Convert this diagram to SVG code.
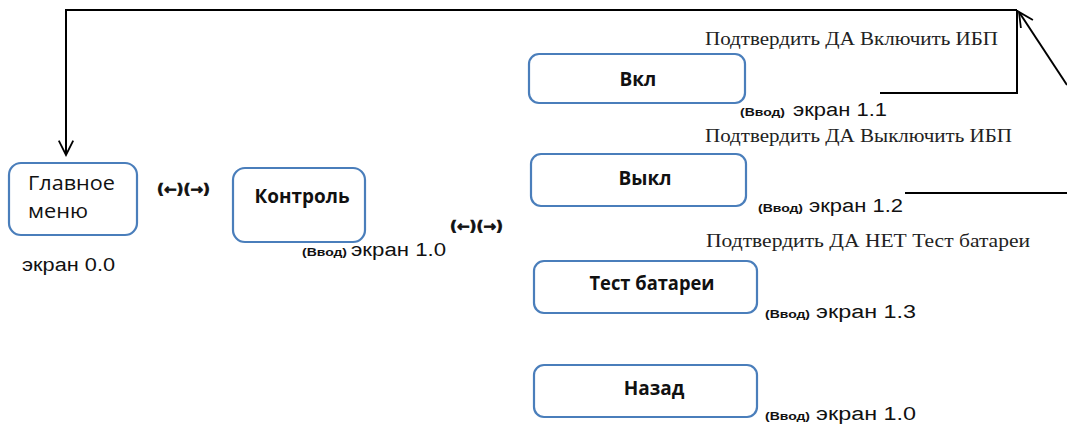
<svg xmlns="http://www.w3.org/2000/svg" width="1067" height="425" viewBox="0 0 1067 425">
<style>
.box{fill:#fff;stroke:#4a7ebb;stroke-width:2.2}
.lbl{font-family:"Open Sans","Liberation Sans",sans-serif;font-size:20px;fill:#111}
.bl{font-family:"Open Sans","Liberation Sans",sans-serif;font-size:19px;font-weight:bold;fill:#111;text-anchor:middle}
.scr{font-family:"Liberation Sans",Arial,sans-serif;font-size:18px;fill:#111}
.in{font-family:"Liberation Sans",Arial,sans-serif;font-size:11px;font-weight:bold;fill:#111}
.ser{font-family:"Liberation Serif","Times New Roman",serif;font-size:18px;fill:#222}
.ar{font-family:"DejaVu Sans",sans-serif;font-size:14px;font-weight:bold;fill:#111;stroke:#111;stroke-width:0.7}
.ln{fill:none;stroke:#000;stroke-width:2}
</style>
<defs>
<marker id="open" viewBox="0 0 20 20" refX="18" refY="10" markerWidth="18" markerHeight="18" markerUnits="userSpaceOnUse" orient="auto">
<path d="M2,2 L18,10 L2,18" fill="none" stroke="#000" stroke-width="2"/>
</marker>
</defs>
<g id="connectors">
<path class="ln" d="M1017,10 H66 V155" marker-end="url(#open)"/>
<path class="ln" d="M880,93 H1017 V10"/>
<path class="ln" d="M1067,85 L1019,12" marker-end="url(#open)"/>
<path class="ln" d="M905,193 H1067"/>
</g>
<g id="main">
<rect class="box" x="9" y="163" width="128" height="72" rx="12"/>
<text class="lbl" x="28" y="190" textLength="87" lengthAdjust="spacingAndGlyphs">Главное</text>
<text class="lbl" x="28" y="218" textLength="60" lengthAdjust="spacingAndGlyphs">меню</text>
<text class="scr" x="22" y="271" textLength="93" lengthAdjust="spacingAndGlyphs">экран 0.0</text>
<text class="ar" x="157" y="194" textLength="53" lengthAdjust="spacingAndGlyphs">(←)(→)</text>
</g>
<g id="control">
<rect class="box" x="233" y="168" width="132" height="74" rx="12"/>
<text class="bl" x="302" y="203" textLength="95" lengthAdjust="spacingAndGlyphs">Контроль</text>
<text class="in" x="302" y="256" textLength="45" lengthAdjust="spacingAndGlyphs">(Ввод)</text>
<text class="scr" x="351" y="256" textLength="95" lengthAdjust="spacingAndGlyphs">экран 1.0</text>
<text class="ar" x="450" y="231" textLength="53" lengthAdjust="spacingAndGlyphs">(←)(→)</text>
</g>
<g id="on">
<rect class="box" x="529" y="54" width="216" height="49" rx="10"/>
<text class="bl" x="638" y="86">Вкл</text>
<text class="ser" x="705" y="45" textLength="293" lengthAdjust="spacingAndGlyphs">Подтвердить ДА Включить ИБП</text>
<text class="in" x="740" y="116" textLength="45" lengthAdjust="spacingAndGlyphs">(Ввод)</text>
<text class="scr" x="793" y="116" textLength="94" lengthAdjust="spacingAndGlyphs">экран 1.1</text>
</g>
<g id="off">
<rect class="box" x="531" y="154" width="215" height="52" rx="10"/>
<text class="bl" x="645" y="185">Выкл</text>
<text class="ser" x="705" y="142" textLength="307" lengthAdjust="spacingAndGlyphs">Подтвердить ДА Выключить ИБП</text>
<text class="in" x="758" y="212" textLength="45" lengthAdjust="spacingAndGlyphs">(Ввод)</text>
<text class="scr" x="809" y="212" textLength="94" lengthAdjust="spacingAndGlyphs">экран 1.2</text>
</g>
<g id="test">
<rect class="box" x="534" y="261" width="223" height="52" rx="10"/>
<text class="bl" x="652" y="290" textLength="125" lengthAdjust="spacingAndGlyphs">Тест батареи</text>
<text class="ser" x="706" y="247" textLength="324" lengthAdjust="spacingAndGlyphs">Подтвердить ДА НЕТ Тест батареи</text>
<text class="in" x="765" y="318" textLength="45" lengthAdjust="spacingAndGlyphs">(Ввод)</text>
<text class="scr" x="816" y="318" textLength="100" lengthAdjust="spacingAndGlyphs">экран 1.3</text>
</g>
<g id="back">
<rect class="box" x="534" y="365" width="223" height="52" rx="10"/>
<text class="bl" x="654" y="395">Назад</text>
<text class="in" x="765" y="420" textLength="45" lengthAdjust="spacingAndGlyphs">(Ввод)</text>
<text class="scr" x="816" y="420" textLength="100" lengthAdjust="spacingAndGlyphs">экран 1.0</text>
</g>
</svg>
